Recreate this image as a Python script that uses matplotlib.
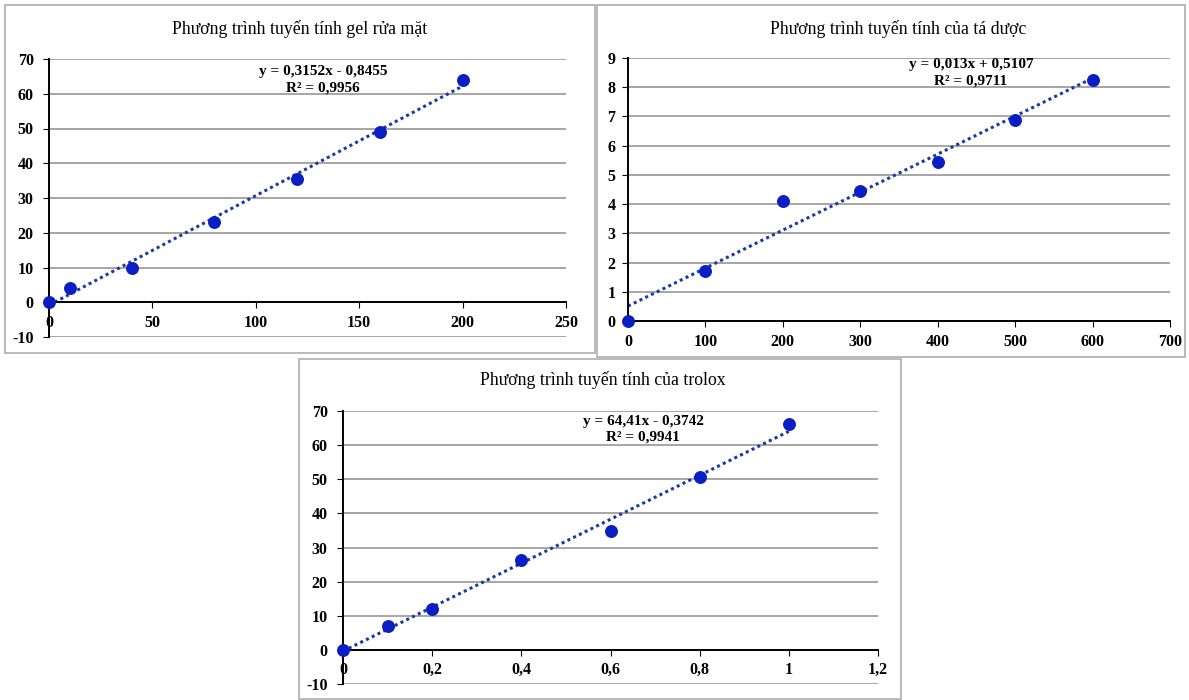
import numpy as np
import matplotlib.pyplot as plt
from matplotlib.patches import Rectangle

plt.rcParams['font.family'] = ['Liberation Serif', 'DejaVu Serif']

# Dữ liệu
gel_x = [0, 10, 40, 80, 120, 160, 200]
gel_y = [0, 4.2, 10, 23, 35.5, 49, 64]
gel_fit = (0.3152, -0.8455)
gel_xticks = [0, 50, 100, 150, 200, 250]
gel_xlabels = ['0', '50', '100', '150', '200', '250']
gel_yticks = [-10, 0, 10, 20, 30, 40, 50, 60, 70]

td_x = [0, 100, 200, 300, 400, 500, 600]
td_y = [0, 1.7, 4.12, 4.45, 5.45, 6.87, 8.25]
td_fit = (0.013, 0.5107)
td_xticks = [0, 100, 200, 300, 400, 500, 600, 700]
td_xlabels = ['0', '100', '200', '300', '400', '500', '600', '700']
td_yticks = [0, 1, 2, 3, 4, 5, 6, 7, 8, 9]

tr_x = [0, 0.1, 0.2, 0.4, 0.6, 0.8, 1.0]
tr_y = [0, 7, 12, 26.2, 34.7, 50.6, 66.3]
tr_fit = (64.41, -0.3742)
tr_xticks = [0, 0.2, 0.4, 0.6, 0.8, 1.0, 1.2]
tr_xlabels = ['0', '0,2', '0,4', '0,6', '0,8', '1', '1,2']
tr_yticks = [-10, 0, 10, 20, 30, 40, 50, 60, 70]

titles = ['Phương trình tuyến tính gel rửa mặt',
          'Phương trình tuyến tính của tá dược',
          'Phương trình tuyến tính của trolox']
eqs = [('y = 0,3152x - 0,8455', 'R² = 0,9956'),
       ('y = 0,013x + 0,5107', 'R² = 0,9711'),
       ('y = 64,41x - 0,3742', 'R² = 0,9941')]

W, H = 1189, 700
fig = plt.figure(figsize=(W / 100, H / 100), dpi=100)


def px(x0, y0, x1, y1):
    # pixel box -> figure fraction [left, bottom, width, height]
    return [x0 / W, 1 - y1 / H, (x1 - x0) / W, (y1 - y0) / H]


# khung ngoài
for (x0, y0, x1, y1) in [(5, 5, 595, 353), (597, 5, 1185, 357), (299, 359, 901, 699)]:
    fig.patches.append(Rectangle((x0 / W, 1 - y1 / H), (x1 - x0) / W, (y1 - y0) / H,
                                 transform=fig.transFigure, fill=False,
                                 edgecolor='#b4b4b4', lw=1.3))

mk_color = '#0a1ec4'
line_color = '#1c3a9e'


def draw(ax, xs, ys, fit, xmax_fit, xticks, xlabels, yticks, xlim, ylim, eq, eqpos,
         zero_axis, ypad):
    ax.set_xlim(*xlim)
    ax.set_ylim(*ylim)
    ax.set_yticks(yticks)
    ax.set_yticklabels([str(t) for t in yticks])
    ax.set_xticks(xticks)
    ax.set_xticklabels(xlabels)
    ax.yaxis.grid(True, color='#a6a6a6', lw=1.4)
    ax.set_axisbelow(True)
    for s in ['top', 'right']:
        ax.spines[s].set_visible(False)
    ax.spines['left'].set_color('black')
    ax.spines['left'].set_linewidth(1.4)
    ax.spines['bottom'].set_color('black')
    ax.spines['bottom'].set_linewidth(1.4)
    if zero_axis:
        ax.spines['bottom'].set_position(('data', 0))
    ax.tick_params(axis='y', length=4, pad=ypad, labelsize=11.5)
    ax.tick_params(axis='x', length=4, pad=5, labelsize=11.5)
    for lab in ax.get_xticklabels() + ax.get_yticklabels():
        lab.set_fontweight('bold')
    fx = np.array([0, xmax_fit])
    ax.plot(fx, fit[0] * fx + fit[1], color=line_color, lw=2.2,
            linestyle=(0, (1, 1.1)), zorder=2)
    ax.plot(xs, ys, 'o', color=mk_color, ms=8.3, zorder=3, clip_on=False)
    ax.text(eqpos[0], eqpos[1], eq[0], transform=ax.transAxes, ha='center',
            va='center', fontsize=11, fontweight='bold')
    ax.text(eqpos[0], eqpos[2], eq[1], transform=ax.transAxes, ha='center',
            va='center', fontsize=11, fontweight='bold')


ax1 = fig.add_axes(px(49, 59, 566, 337))
draw(ax1, gel_x, gel_y, gel_fit, 200, gel_xticks, gel_xlabels, gel_yticks,
     (0, 250), (-10, 70), eqs[0], (0.530, 0.955, 0.897), True, 7)

ax2 = fig.add_axes(px(628, 58, 1170, 321))
draw(ax2, td_x, td_y, td_fit, 600, td_xticks, td_xlabels, td_yticks,
     (0, 700), (0, 9), eqs[1], (0.633, 0.977, 0.914), False, 5)

ax3 = fig.add_axes(px(343, 411, 878, 684))
draw(ax3, tr_x, tr_y, tr_fit, 1.0, tr_xticks, tr_xlabels, tr_yticks,
     (0, 1.2), (-10, 70), eqs[2], (0.561, 0.962, 0.903), True, 7)

fig.text(300 / W, 1 - 29 / H, titles[0], ha='center', va='center', fontsize=12.8)
fig.text(898 / W, 1 - 29 / H, titles[1], ha='center', va='center', fontsize=12.8)
fig.text(603 / W, 1 - 380 / H, titles[2], ha='center', va='center', fontsize=12.8)

fig.savefig('out.png', dpi=100, facecolor='white')
